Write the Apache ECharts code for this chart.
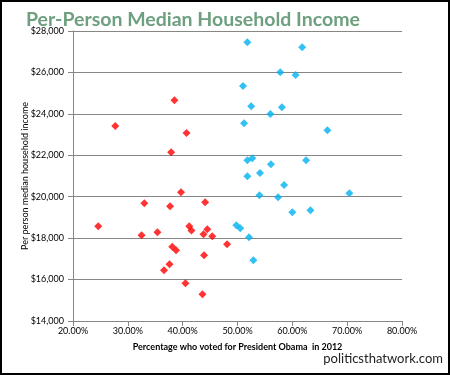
<!DOCTYPE html>
<html>
<head>
<meta charset="utf-8">
<script src="https://cdn.jsdelivr.net/npm/echarts@6/dist/echarts.min.js"></script>
<style>
  html, body { margin: 0; padding: 0; background: #fff; }
  #chart { width: 450px; height: 375px; }
</style>
</head>
<body>
<div id="chart"></div>
<script>
// states won by Obama (blue) and Romney (red): [vote %, per-person median income]
var obamaStates = [
    [51.8, 27460], [61.8, 27220], [57.8, 26010], [60.6, 25870], [51.0, 25340],
    [52.5, 24370], [58.1, 24320], [56.0, 23990], [51.2, 23550], [66.4, 23210],
    [51.8, 21760], [52.7, 21860], [56.1, 21570], [62.5, 21760], [54.1, 21140],
    [51.8, 20990], [58.5, 20560], [54.0, 20070], [57.4, 19980], [70.4, 20170],
    [60.0, 19250], [63.3, 19350], [49.8, 18620], [50.5, 18480], [52.1, 18040],
    [52.9, 16930]
];
var romneyStates = [
    [38.5, 24660], [27.7, 23410], [40.7, 23070], [37.9, 22150], [39.7, 20220],
    [33.0, 19690], [37.7, 19540], [44.1, 19730], [24.6, 18580], [41.2, 18580],
    [41.6, 18370], [44.5, 18430], [35.4, 18290], [32.5, 18140], [43.8, 18190],
    [45.4, 18090], [48.1, 17710], [38.1, 17580], [38.8, 17420], [43.9, 17170],
    [37.6, 16740], [36.6, 16450], [40.5, 15820], [43.6, 15290]
];

var xMin = 20, xMax = 80, xStep = 10;
var yMin = 14000, yMax = 28000, yStep = 2000;

var myChart = echarts.init(document.getElementById('chart'));
var lblFont = 'Lato, "Open Sans", sans-serif';

var option = {
    animation: false,
    title: {
        text: 'Per-Person Median Household Income',
        left: 21,
        top: 5,
        textStyle: {
            color: '#6E9F7F',
            fontFamily: lblFont,
            fontWeight: 'bold',
            fontSize: 19.5
        }
    },
    grid: { left: 73, right: 48, top: 31, bottom: 54 },
    xAxis: {
        type: 'value',
        min: xMin, max: xMax, interval: xStep,
        name: 'Percentage who voted for President Obama  in 2012',
        nameLocation: 'middle',
        nameGap: 22,
        nameMoveOverlap: false,
        nameTextStyle: { color: '#000', fontSize: 9, fontWeight: 'bold', fontFamily: lblFont },
        axisLine: { show: true, lineStyle: { color: '#868686' } },
        axisTick: { show: true, length: 5, lineStyle: { color: '#868686' } },
        splitLine: { show: false },
        axisLabel: {
            color: '#000', fontSize: 9, fontFamily: lblFont, margin: 6,
            formatter: function (v) { return v.toFixed(2) + '%'; }
        }
    },
    yAxis: {
        type: 'value',
        min: yMin, max: yMax, interval: yStep,
        name: 'Per person median household income',
        nameLocation: 'middle',
        nameGap: 43,
        nameMoveOverlap: false,
        nameTextStyle: { color: '#000', fontSize: 9, fontFamily: lblFont },
        axisLine: { show: true, lineStyle: { color: '#868686' } },
        axisTick: { show: true, length: 5, lineStyle: { color: '#868686' } },
        splitLine: { show: true, lineStyle: { color: '#868686', width: 1 } },
        axisLabel: {
            color: '#000', fontSize: 9, fontFamily: lblFont, margin: 9,
            formatter: function (v) { return '$' + v.toLocaleString('en-US'); }
        }
    },
    series: [
        {
            name: 'Obama',
            type: 'scatter',
            symbol: 'diamond',
            symbolSize: 8,
            itemStyle: { color: '#00B0F0' },
            data: obamaStates
        },
        {
            name: 'Romney',
            type: 'scatter',
            symbol: 'diamond',
            symbolSize: 8,
            itemStyle: { color: '#FF0000' },
            data: romneyStates
        }
    ],
    graphic: [
        {
            type: 'text',
            right: 7,
            top: 352,
            style: {
                text: 'politicsthatwork.com',
                fill: '#222',
                font: '13px ' + lblFont
            }
        },
        {
            type: 'rect',
            shape: { x: 1, y: 1, width: 448, height: 373 },
            style: { fill: 'none', stroke: '#000', lineWidth: 2 },
            silent: true
        }
    ]
};

myChart.setOption(option);
window.addEventListener('resize', function () { myChart.resize(); });
</script>
</body>
</html>
